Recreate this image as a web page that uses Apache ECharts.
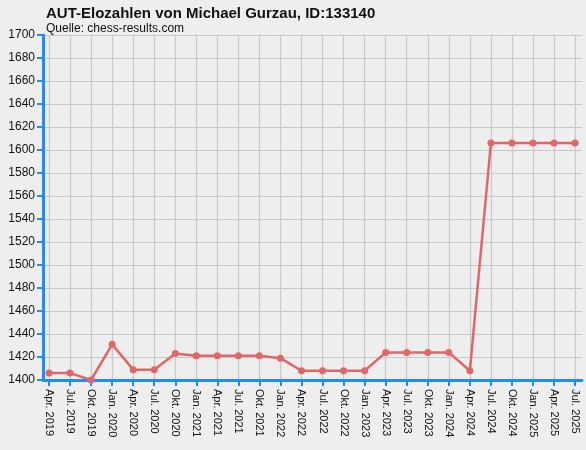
<!DOCTYPE html>
<html>
<head>
<meta charset="utf-8">
<script src="https://cdn.jsdelivr.net/npm/echarts@6/dist/echarts.min.js"></script>
<style>
  html, body { margin: 0; padding: 0; background: #eeeeee; }
  #elo_chart { width: 586px; height: 450px; }
</style>
</head>
<body>
<div id="elo_chart"></div>
<script>
// Rating periods (quarterly) and the matching ratings
const periods = [
  'Apr. 2019', 'Jul. 2019', 'Okt. 2019',
  'Jan. 2020', 'Apr. 2020', 'Jul. 2020', 'Okt. 2020',
  'Jan. 2021', 'Apr. 2021', 'Jul. 2021', 'Okt. 2021',
  'Jan. 2022', 'Apr. 2022', 'Jul. 2022', 'Okt. 2022',
  'Jan. 2023', 'Apr. 2023', 'Jul. 2023', 'Okt. 2023',
  'Jan. 2024', 'Apr. 2024', 'Jul. 2024', 'Okt. 2024',
  'Jan. 2025', 'Apr. 2025', 'Jul. 2025'
];
const eloValues = [
  1406, 1406, 1400,
  1431, 1409, 1409, 1423,
  1421, 1421, 1421, 1421,
  1419, 1408, 1408, 1408,
  1408, 1424, 1424, 1424,
  1424, 1408, 1606, 1606,
  1606, 1606, 1606
];
const yTicks = { min: 1400, max: 1700, step: 20 };

const positions = periods.map((p, i) => i);
const axisBlue = '#1e8cff';

const option = {
  backgroundColor: '#eeeeee',
  animation: false,
  title: {
    text: 'AUT-Elozahlen von Michael Gurzau, ID:133140',
    subtext: 'Quelle: chess-results.com',
    left: 41,
    top: 1,
    itemGap: 2,
    textStyle: { fontFamily: 'Liberation Sans', fontSize: 15, fontWeight: 'bold', color: '#111' },
    subtextStyle: { fontFamily: 'Liberation Sans', fontSize: 12, color: '#111' }
  },
  grid: { left: 43, right: 4, top: 35, bottom: 70, outerBoundsMode: 'none' },
  xAxis: {
    type: 'value',
    min: -0.286,
    max: 25.33,
    axisLine: { show: true, onZero: false, lineStyle: { color: axisBlue, width: 3 } },
    axisTick: { show: true, customValues: positions, length: 6, lineStyle: { color: axisBlue, width: 2 } },
    axisLabel: {
      customValues: positions,
      formatter: (v) => periods[Math.round(v)] || '',
      rotate: -90,
      margin: 9,
      fontFamily: 'Liberation Sans',
      fontSize: 11,
      color: '#111'
    },
    splitLine: { show: true, lineStyle: { color: '#c8c8c8', width: 1.2 } }
  },
  yAxis: {
    type: 'value',
    min: yTicks.min,
    max: yTicks.max,
    interval: yTicks.step,
    axisLine: { show: true, onZero: false, lineStyle: { color: axisBlue, width: 3 } },
    axisTick: { show: true, length: 6, lineStyle: { color: axisBlue, width: 2 } },
    axisLabel: {
      formatter: (v) => String(v),
      fontFamily: 'Liberation Sans',
      fontSize: 12,
      color: '#111',
      margin: 8
    },
    splitLine: { show: true, lineStyle: { color: '#c8c8c8', width: 1.2 } }
  },
  series: [{
    type: 'line',
    data: eloValues.map((v, i) => [positions[i], v]),
    symbol: 'circle',
    symbolSize: 7,
    itemStyle: { color: '#e06767' },
    lineStyle: { color: '#e06767', width: 2.5 },
    z: 5
  }]
};

const myChart = echarts.init(document.getElementById('elo_chart'));
myChart.setOption(option);
</script>
</body>
</html>
